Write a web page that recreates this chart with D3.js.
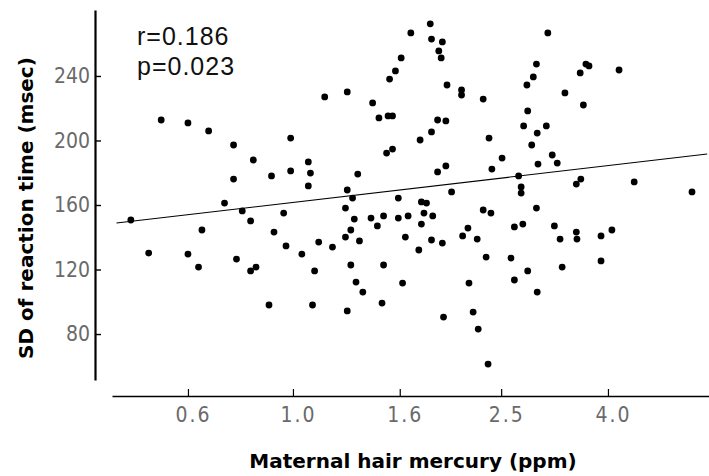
<!DOCTYPE html>
<html>
<head>
<meta charset="utf-8">
<script src="https://cdn.jsdelivr.net/npm/d3@7"></script>
<style>
  body { margin: 0; background: #fff; }
</style>
</head>
<body>
<div class="canvas"></div>
<script>
// maternal hair mercury (ppm) and SD of reaction time (msec)
const hairMercury = [
  0.56, 0.63, 0.69, 0.77, 0.99, 0.84, 0.77, 0.91, 0.99, 1.07, 1.08, 1.07, 1.15, 1.27, 1.33, 1.27, 1.30,
  1.83, 1.68, 1.84, 1.93, 1.90, 1.92, 1.61, 1.57, 1.53, 1.97, 2.10, 2.10, 2.31, 1.42, 1.46, 1.52, 1.55,
  1.89, 1.96, 1.84, 1.75, 2.37, 1.51, 1.55, 2.51, 1.89, 1.96, 2.40, 2.01, 1.59,
  3.07, 2.92, 2.88, 2.80, 3.63, 3.68, 3.54, 4.20, 3.31, 3.59, 2.81, 2.76, 3.05, 2.93, 2.86, 3.13, 3.20,
  2.94, 2.70, 2.73, 2.73, 3.48, 3.55, 4.49, 5.79,
  0.49, 0.74, 0.80, 0.83, 0.96, 0.67, 0.92, 0.97, 1.04, 0.53, 0.63, 0.66, 0.78, 0.83, 0.85, 0.90, 1.09,
  1.27, 1.10, 1.12, 1.19, 1.26, 1.29, 1.32, 1.36, 1.26, 1.31, 1.29,
  1.76, 1.80, 2.31, 2.39, 1.41, 1.49, 1.45, 1.59, 1.66, 1.78, 1.85, 1.76, 1.34, 1.64, 1.84, 1.93, 1.74,
  2.16, 2.11, 2.25, 2.34, 2.61, 1.49, 1.62, 2.17, 1.48, 1.94, 2.21, 2.26, 2.36,
  2.92, 2.65, 2.75, 3.16, 3.24, 3.48, 3.49, 3.88, 4.07, 2.81, 2.65, 3.27, 3.88, 2.93
]
const reactionSD = [
  212.7, 210.9, 205.9, 197.2, 201.5, 187.9, 176.1, 178.0, 181.1, 186.7, 179.8, 171.8, 227.0, 230.1, 179.2, 169.3, 164.3,
  272.3, 266.7, 262.9, 261.1, 255.5, 251.2, 251.2, 243.1, 238.1, 234.4, 231.3, 228.2, 225.7, 223.3, 214.0, 215.2, 215.2,
  212.7, 212.1, 205.3, 200.3, 201.5, 192.2, 194.7, 189.1, 180.5, 184.2, 182.3, 168.1, 164.3,
  266.7, 247.4, 239.4, 234.4, 247.4, 246.2, 241.9, 243.7, 229.5, 222.0, 218.3, 209.0, 209.0, 204.6, 197.2, 191.0, 186.0,
  185.4, 178.0, 171.2, 167.4, 173.0, 176.1, 174.3, 168.1,
  150.7, 161.2, 156.3, 150.1, 155.0, 144.5, 143.2, 134.6, 129.6, 130.2, 129.6, 121.5, 126.5, 119.1, 121.5, 98.0, 98.0,
  94.3, 119.1, 137.0, 133.9, 140.1, 122.8, 112.2, 106.0, 158.1, 151.3, 144.5,
  161.9, 161.2, 156.9, 155.0, 151.9, 153.2, 147.0, 151.9, 153.2, 155.0, 153.2, 148.2, 137.7, 140.1, 138.3, 136.4, 132.1,
  145.7, 140.8, 138.9, 127.7, 127.1, 122.8, 111.6, 111.6, 99.2, 90.5, 93.6, 83.1, 61.4,
  158.1, 146.4, 148.2, 147.0, 138.9, 143.2, 138.9, 140.8, 144.5, 119.1, 113.5, 121.5, 125.3, 106.0
]

// regression line end points
const fitX = [0.46, 6.19]
const fitY = [148.8, 191.6]

const xTicks = [0.63, 1.0, 1.6, 2.5, 4.0]
const xTickLabels = ['0.6', '1.0', '1.6', '2.5', '4.0']
const yTicks = [80, 120, 160, 200, 240]
const statLines = ['r=0.186', 'p=0.023']

const data = hairMercury.map((hg, i) => ({ hg: hg, sd: reactionSD[i] }))

const svg = d3.select('.canvas')
  .append('svg')
  .attr('width', 709)
  .attr('height', 476)

const x = d3.scaleLog()
  .domain([0.451, 6.24])
  .range([112, 709])

const y = d3.scaleLinear()
  .domain([51.5, 280.9])
  .range([380, 10])

const tickFont = '"Liberation Sans Narrow", "DejaVu Sans Condensed", "Arial Narrow", sans-serif'

// y axis: ticks point into the plot, labels on the left
const yAxis = d3.axisLeft(y)
  .tickValues(yTicks)
  .tickSizeInner(-6)
  .tickSizeOuter(0)
  .tickPadding(5)

const yAxisGroup = svg.append('g')
  .attr('transform', 'translate(95, 0)')
  .call(yAxis)

yAxisGroup.select('.domain').attr('stroke-width', 2.2)
yAxisGroup.selectAll('.tick line').attr('stroke-width', 1.4)
yAxisGroup.selectAll('text')
  .attr('font-family', tickFont)
  .attr('font-size', 21)
  .attr('fill', '#6a6a6a')

// x axis sits below and apart from the y axis
const xAxis = d3.axisBottom(x)
  .tickValues(xTicks)
  .tickFormat((d, i) => xTickLabels[i])
  .tickSizeInner(-7)
  .tickSizeOuter(0)
  .tickPadding(11)

const xAxisGroup = svg.append('g')
  .attr('transform', 'translate(0, 396)')
  .call(xAxis)

xAxisGroup.select('.domain').attr('stroke-width', 1.6)
xAxisGroup.selectAll('.tick line').attr('stroke-width', 1.2)
xAxisGroup.selectAll('text')
  .attr('font-family', tickFont)
  .attr('font-size', 21)
  .attr('letter-spacing', 2)
  .attr('dx', 5)
  .attr('fill', '#6a6a6a')

// regression line
svg.append('line')
  .attr('x1', x(fitX[0]))
  .attr('y1', y(fitY[0]))
  .attr('x2', x(fitX[1]))
  .attr('y2', y(fitY[1]))
  .attr('stroke', '#000')
  .attr('stroke-width', 1.1)

// points
svg.selectAll('circle')
  .data(data)
  .enter()
  .append('circle')
  .attr('cx', d => x(d.hg))
  .attr('cy', d => y(d.sd))
  .attr('r', 3.4)
  .attr('fill', '#000')

// r and p values
svg.selectAll('.stat')
  .data(statLines)
  .enter()
  .append('text')
  .attr('class', 'stat')
  .attr('x', 137)
  .attr('y', (d, i) => 45 + i * 30)
  .attr('font-family', '"Liberation Sans", Arial, sans-serif')
  .attr('font-size', 25)
  .attr('letter-spacing', 1)
  .attr('fill', '#111')
  .text(d => d)

// axis titles
svg.append('text')
  .attr('x', 413)
  .attr('y', 468)
  .attr('text-anchor', 'middle')
  .attr('font-family', '"DejaVu Sans", sans-serif')
  .attr('font-weight', 'bold')
  .attr('font-size', 20)
  .text('Maternal hair mercury (ppm)')

svg.append('text')
  .attr('transform', 'translate(33, 208) rotate(-90)')
  .attr('text-anchor', 'middle')
  .attr('font-family', '"DejaVu Sans", sans-serif')
  .attr('font-weight', 'bold')
  .attr('font-size', 20)
  .text('SD of reaction time (msec)')
</script>
</body>
</html>
